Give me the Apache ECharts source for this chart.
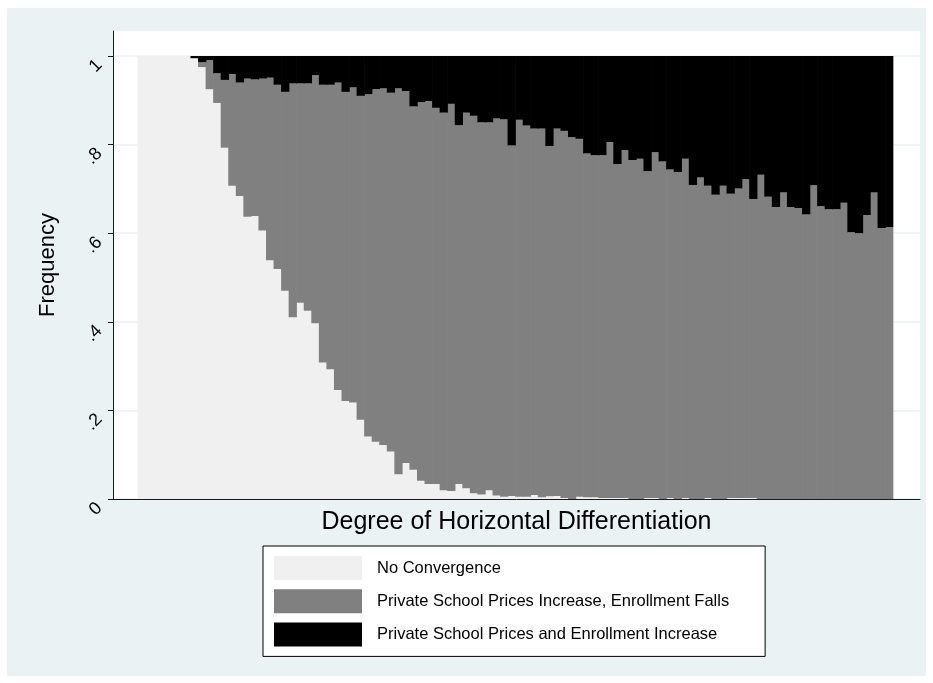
<!DOCTYPE html>
<html>
<head>
<meta charset="utf-8">
<script src="https://cdn.jsdelivr.net/npm/echarts@6/dist/echarts.min.js"></script>
<style>
html,body{margin:0;padding:0;background:#fff;}
#chart{width:933px;height:683px;}
</style>
</head>
<body>
<div id="chart"></div>
<script>
// ---- data ----
const categories = Array.from({length: 100}, (_, i) => String(i + 1));

const noConvergence = [
  1, 1, 1, 1, 1, 1, 1, 0.995, 0.975, 0.925,
  0.894, 0.793, 0.707, 0.684, 0.637, 0.639, 0.606, 0.539, 0.519, 0.470,
  0.410, 0.443, 0.425, 0.397, 0.308, 0.293, 0.246, 0.221, 0.218, 0.179,
  0.141, 0.129, 0.122, 0.107, 0.056, 0.081, 0.066, 0.041, 0.034, 0.034,
  0.020, 0.018, 0.034, 0.024, 0.013, 0.010, 0.020, 0.008, 0.005, 0.007,
  0.005, 0.005, 0.009, 0.004, 0.006, 0.007, 0.002, 0, 0.005, 0.004,
  0.004, 0.002, 0.002, 0.002, 0.002, 0, 0, 0.002, 0.002, 0,
  0.002, 0, 0.002, 0, 0, 0.002, 0, 0, 0.002, 0.002,
  0.002, 0.002, 0, 0, 0, 0, 0, 0, 0, 0,
  0, 0, 0, 0, 0, 0, 0, 0, 0, 0
];

const pricesUpEnrollFalls = [
  0, 0, 0, 0, 0, 0, 0, 0, 0.011, 0.066,
  0.067, 0.153, 0.252, 0.256, 0.312, 0.308, 0.343, 0.412, 0.416, 0.449,
  0.528, 0.495, 0.513, 0.560, 0.627, 0.642, 0.694, 0.698, 0.711, 0.731,
  0.773, 0.796, 0.805, 0.810, 0.871, 0.840, 0.820, 0.855, 0.864, 0.849,
  0.852, 0.874, 0.810, 0.848, 0.852, 0.840, 0.830, 0.851, 0.852, 0.791,
  0.851, 0.838, 0.827, 0.832, 0.791, 0.829, 0.829, 0.817, 0.808, 0.776,
  0.772, 0.774, 0.804, 0.754, 0.786, 0.765, 0.768, 0.738, 0.781, 0.762,
  0.742, 0.738, 0.766, 0.709, 0.726, 0.705, 0.687, 0.707, 0.687, 0.699,
  0.720, 0.675, 0.732, 0.682, 0.659, 0.692, 0.659, 0.657, 0.642, 0.708,
  0.661, 0.654, 0.654, 0.669, 0.602, 0.600, 0.641, 0.692, 0.612, 0.614
];

const pricesUpEnrollUp = [
  0, 0, 0, 0, 0, 0, 0, 0.005, 0.014, 0.009,
  0.039, 0.054, 0.041, 0.060, 0.051, 0.053, 0.051, 0.049, 0.065, 0.081,
  0.062, 0.062, 0.062, 0.043, 0.065, 0.065, 0.060, 0.081, 0.071, 0.090,
  0.086, 0.075, 0.073, 0.083, 0.073, 0.079, 0.114, 0.104, 0.102, 0.117,
  0.128, 0.108, 0.156, 0.128, 0.135, 0.150, 0.150, 0.141, 0.143, 0.202,
  0.144, 0.157, 0.164, 0.164, 0.203, 0.164, 0.169, 0.183, 0.187, 0.220,
  0.224, 0.224, 0.194, 0.244, 0.212, 0.235, 0.232, 0.260, 0.217, 0.238,
  0.256, 0.262, 0.232, 0.291, 0.274, 0.293, 0.313, 0.293, 0.311, 0.299,
  0.278, 0.323, 0.268, 0.318, 0.341, 0.308, 0.341, 0.343, 0.358, 0.292,
  0.339, 0.346, 0.346, 0.331, 0.398, 0.400, 0.359, 0.308, 0.388, 0.386
];

const yTicks = [0, 0.2, 0.4, 0.6, 0.8, 1];
const yTickLabels = ['0', '.2', '.4', '.6', '.8', '1'];

const seriesNames = [
  'No Convergence',
  'Private School Prices Increase, Enrollment Falls',
  'Private School Prices and Enrollment Increase'
];
const seriesColors = ['#f0f0f0', '#808080', '#000000'];

// ---- chart ----
const FONT = "'Liberation Sans', Arial, Helvetica, sans-serif";
const yMax = (499 - 31) / (499 - 56);

const layers = [noConvergence, pricesUpEnrollFalls, pricesUpEnrollUp];

// stacked rows [categoryIndex, bottom, top] for each layer
function stackedRows(layerIdx) {
  return categories.map((c, i) => {
    let bottom = 0;
    for (let k = 0; k < layerIdx; k++) bottom += layers[k][i];
    return [i, bottom, bottom + layers[layerIdx][i]];
  });
}

const chart = echarts.init(document.getElementById('chart'), null, {renderer: 'canvas'});

const makeSeries = (idx) => ({
  name: seriesNames[idx], type: 'custom', xAxisIndex: 1, yAxisIndex: 1,
  data: stackedRows(idx),
  encode: {x: 0, y: [1, 2]},
  itemStyle: {color: seriesColors[idx]},
  renderItem: function (params, api) {
    const lo = api.value(1), hi = api.value(2);
    if (!(hi > lo)) return null;
    const i = api.value(0);
    const p0 = api.coord([i, lo]);
    const p1 = api.coord([i, hi]);
    const w = api.size([1, 0])[0];
    return {
      type: 'rect',
      shape: {x: p0[0] - w / 2 - 0.35, y: p1[1], width: w + 0.7, height: p0[1] - p1[1]},
      style: {fill: seriesColors[idx]}
    };
  }
});

const option = {
  animation: false,
  backgroundColor: '#ffffff',
  textStyle: {fontFamily: FONT},
  graphic: [{
    type: 'rect', silent: true, z: -10,
    shape: {x: 7, y: 8, width: 919, height: 668},
    style: {fill: '#eaf2f3'}
  }],
  grid: [
    {left: 113, right: 13, top: 31, bottom: 184, show: true, backgroundColor: '#ffffff', borderWidth: 0},
    {left: 138, right: 40, top: 31, bottom: 184}
  ],
  xAxis: [
    {
      gridIndex: 0, type: 'value', min: 0, max: 1,
      axisLine: {show: true, onZero: false, lineStyle: {color: '#1a1a1a', width: 1}},
      axisTick: {show: false}, axisLabel: {show: false}, splitLine: {show: false},
      name: 'Degree of Horizontal Differentiation', nameLocation: 'middle', nameGap: 11,
      nameTextStyle: {fontSize: 25, color: '#000', fontFamily: FONT}
    },
    {gridIndex: 1, type: 'category', data: categories, show: false}
  ],
  yAxis: [
    {
      gridIndex: 0, type: 'value', min: 0, max: yMax, interval: 0.2,
      axisLine: {show: true, lineStyle: {color: '#1a1a1a', width: 1}},
      axisTick: {show: true, length: 5, customValues: yTicks, lineStyle: {color: '#1a1a1a'}},
      axisLabel: {
        customValues: yTicks,
        rotate: 45, align: 'right', verticalAlign: 'top', margin: 20,
        fontSize: 18, color: '#000', fontFamily: FONT,
        formatter: function (v) {
          for (let i = 0; i < yTicks.length; i++) {
            if (Math.abs(v - yTicks[i]) < 1e-6) return yTickLabels[i];
          }
          return '';
        }
      },
      splitLine: {show: true, lineStyle: {color: '#eaf2f3', width: 1.5}},
      name: 'Frequency', nameLocation: 'middle', nameRotate: 90, nameGap: 54,
      nameTextStyle: {fontSize: 22, color: '#000', fontFamily: FONT}
    },
    {gridIndex: 1, type: 'value', min: 0, max: yMax, show: false, splitLine: {show: false}}
  ],
  legend: {
    orient: 'vertical', left: 263, top: 546,
    padding: [10, 36, 10, 11],
    itemWidth: 88, itemHeight: 24, itemGap: 9.2,
    backgroundColor: '#ffffff', borderColor: '#000', borderWidth: 1, borderRadius: 0,
    icon: 'rect',
    itemStyle: {borderWidth: 0},
    textStyle: {fontSize: 16.5, color: '#000', fontFamily: FONT, padding: [3, 0, 0, 10]},
    data: seriesNames
  },
  series: [makeSeries(0), makeSeries(1), makeSeries(2)]
};

chart.setOption(option);
</script>
</body>
</html>
